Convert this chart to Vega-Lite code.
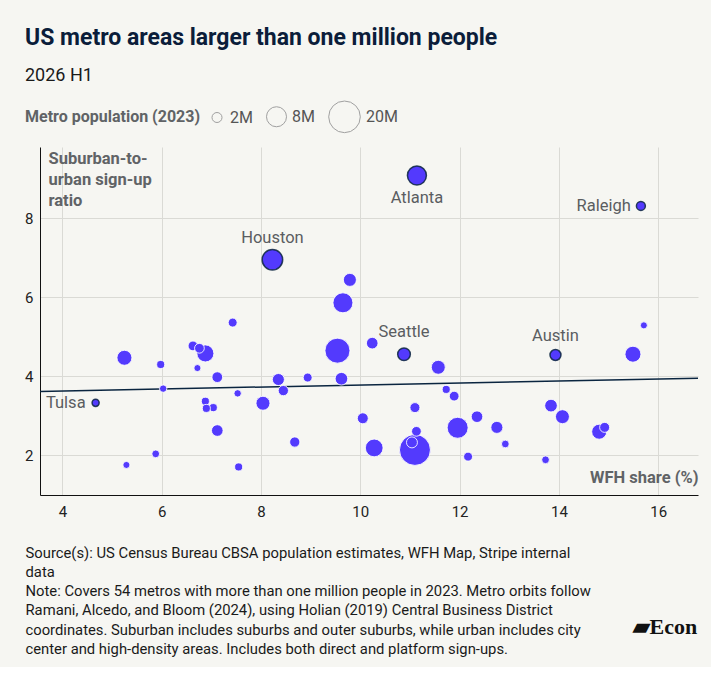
{
  "$schema": "https://vega.github.io/schema/vega-lite/v6.json",
  "width": 658,
  "height": 348,
  "autosize": {"type": "pad"},
  "padding": {"left": 24, "top": 27, "right": 10, "bottom": 10},
  "background": "#f6f6f2",
  "config": {
    "font": "Roboto",
    "view": {"stroke": null},
    "axis": {"ticks": false, "labelFont": "Roboto", "titleFont": "Roboto"}
  },
  "title": {
    "text": "US metro areas larger than one million people",
    "subtitle": "2026 H1",
    "anchor": "start",
    "frame": "group",
    "dx": -15,
    "fontSize": 23,
    "fontWeight": "bold",
    "color": "#0b1d3a",
    "subtitleFontSize": 18,
    "subtitleColor": "#1a1a1a",
    "subtitlePadding": 17,
    "offset": 15
  },
  "datasets": {
    "metros": [
      {"wfh": 8.23, "ratio": 6.95, "pop": 8.4, "metro": "Houston"},
      {"wfh": 11.14, "ratio": 9.08, "pop": 7.2, "metro": "Atlanta"},
      {"wfh": 15.65, "ratio": 8.31, "pop": 1.6, "metro": "Raleigh"},
      {"wfh": 10.88, "ratio": 4.56, "pop": 3.2, "metro": "Seattle"},
      {"wfh": 13.93, "ratio": 4.54, "pop": 2.4, "metro": "Austin"},
      {"wfh": 4.67, "ratio": 3.33, "pop": 1.0, "metro": "Tulsa"},
      {"wfh": 9.79, "ratio": 6.44, "pop": 3.4, "metro": null},
      {"wfh": 9.65, "ratio": 5.86, "pop": 8.0, "metro": null},
      {"wfh": 7.43, "ratio": 5.36, "pop": 1.6, "metro": null},
      {"wfh": 6.63, "ratio": 4.77, "pop": 1.9, "metro": null},
      {"wfh": 6.88, "ratio": 4.58, "pop": 5.8, "metro": null},
      {"wfh": 6.76, "ratio": 4.71, "pop": 1.9, "metro": null},
      {"wfh": 5.25, "ratio": 4.47, "pop": 4.5, "metro": null},
      {"wfh": 9.54, "ratio": 4.65, "pop": 12.5, "metro": null},
      {"wfh": 10.24, "ratio": 4.84, "pop": 2.7, "metro": null},
      {"wfh": 5.98, "ratio": 4.3, "pop": 1.3, "metro": null},
      {"wfh": 6.72, "ratio": 4.21, "pop": 1.0, "metro": null},
      {"wfh": 7.12, "ratio": 3.98, "pop": 2.3, "metro": null},
      {"wfh": 8.35, "ratio": 3.92, "pop": 2.9, "metro": null},
      {"wfh": 8.94, "ratio": 3.97, "pop": 1.6, "metro": null},
      {"wfh": 9.62, "ratio": 3.94, "pop": 3.2, "metro": null},
      {"wfh": 6.03, "ratio": 3.69, "pop": 1.1, "metro": null},
      {"wfh": 8.45, "ratio": 3.64, "pop": 2.1, "metro": null},
      {"wfh": 7.53, "ratio": 3.57, "pop": 1.1, "metro": null},
      {"wfh": 6.88, "ratio": 3.37, "pop": 1.3, "metro": null},
      {"wfh": 7.04, "ratio": 3.21, "pop": 1.3, "metro": null},
      {"wfh": 6.9, "ratio": 3.19, "pop": 1.3, "metro": null},
      {"wfh": 8.04, "ratio": 3.32, "pop": 3.9, "metro": null},
      {"wfh": 10.05, "ratio": 2.94, "pop": 2.4, "metro": null},
      {"wfh": 7.12, "ratio": 2.63, "pop": 2.7, "metro": null},
      {"wfh": 8.68, "ratio": 2.34, "pop": 2.1, "metro": null},
      {"wfh": 5.88, "ratio": 2.04, "pop": 1.2, "metro": null},
      {"wfh": 5.29, "ratio": 1.76, "pop": 1.0, "metro": null},
      {"wfh": 7.55, "ratio": 1.71, "pop": 1.3, "metro": null},
      {"wfh": 15.71, "ratio": 5.29, "pop": 1.0, "metro": null},
      {"wfh": 15.49, "ratio": 4.56, "pop": 5.1, "metro": null},
      {"wfh": 11.57, "ratio": 4.23, "pop": 3.9, "metro": null},
      {"wfh": 11.73, "ratio": 3.67, "pop": 1.3, "metro": null},
      {"wfh": 11.89, "ratio": 3.5, "pop": 1.9, "metro": null},
      {"wfh": 11.1, "ratio": 3.21, "pop": 2.0, "metro": null},
      {"wfh": 13.84, "ratio": 3.26, "pop": 3.2, "metro": null},
      {"wfh": 14.07, "ratio": 2.98, "pop": 3.9, "metro": null},
      {"wfh": 12.35, "ratio": 2.98, "pop": 2.7, "metro": null},
      {"wfh": 11.96, "ratio": 2.7, "pop": 8.8, "metro": null},
      {"wfh": 12.75, "ratio": 2.71, "pop": 2.9, "metro": null},
      {"wfh": 11.13, "ratio": 2.61, "pop": 1.9, "metro": null},
      {"wfh": 11.1, "ratio": 2.14, "pop": 19.2, "metro": null},
      {"wfh": 11.04, "ratio": 2.33, "pop": 2.4, "metro": null},
      {"wfh": 10.28, "ratio": 2.19, "pop": 6.3, "metro": null},
      {"wfh": 12.92, "ratio": 2.29, "pop": 1.2, "metro": null},
      {"wfh": 12.17, "ratio": 1.97, "pop": 1.6, "metro": null},
      {"wfh": 13.73, "ratio": 1.89, "pop": 1.2, "metro": null},
      {"wfh": 14.81, "ratio": 2.6, "pop": 4.5, "metro": null},
      {"wfh": 14.92, "ratio": 2.71, "pop": 2.0, "metro": null}
    ],
    "trend": [
      {"wfh": 3.55, "ratio": 3.62},
      {"wfh": 16.8, "ratio": 3.95}
    ]
  },
  "layer": [
    {
      "data": {"name": "trend"},
      "mark": {"type": "line", "color": "#0a2540", "strokeWidth": 1.5},
      "encoding": {
        "x": {
          "field": "wfh",
          "type": "quantitative",
          "scale": {"domain": [3.55, 16.8], "nice": false, "zero": false},
          "axis": {
            "orient": "bottom",
            "labels": false,
            "domain": false,
            "grid": false,
            "title": [
              "Source(s): US Census Bureau CBSA population estimates, WFH Map, Stripe internal",
              "data",
              "Note: Covers 54 metros with more than one million people in 2023. Metro orbits follow",
              "Ramani, Alcedo, and Bloom (2024), using Holian (2019) Central Business District",
              "coordinates. Suburban includes suburbs and outer suburbs, while urban includes city",
              "center and high-density areas. Includes both direct and platform sign-ups."
            ],
            "titleX": -15,
            "titleY": 62,
            "titleAlign": "left",
            "titleAnchor": "start",
            "titleBaseline": "alphabetic",
            "titleFontSize": 14.8,
            "titleFontWeight": "normal",
            "titleColor": "#1a1a1a",
            "titleLineHeight": 19.3
          }
        },
        "y": {
          "field": "ratio",
          "type": "quantitative",
          "scale": {"domain": [1, 9.8], "nice": false, "zero": false},
          "axis": {
            "orient": "right",
            "labels": false,
            "domain": false,
            "grid": false,
            "title": "▰Econ",
            "titleAngle": 0,
            "titleX": -66,
            "titleY": 486,
            "titleAlign": "left",
            "titleBaseline": "alphabetic",
            "titleFont": "Liberation Serif",
            "titleFontSize": 22,
            "titleFontWeight": "bold",
            "titleColor": "#111111"
          }
        }
      }
    },
    {
      "data": {"name": "metros"},
      "mark": {"type": "circle", "opacity": 1, "strokeOpacity": 0.85},
      "encoding": {
        "x": {
          "field": "wfh",
          "type": "quantitative",
          "scale": {"domain": [3.55, 16.8], "nice": false, "zero": false},
          "axis": {
            "orient": "bottom",
            "values": [4, 6, 8, 10, 12, 14, 16],
            "grid": true,
            "gridColor": "#dadad5",
            "domainColor": "#111111",
            "labelPadding": 9,
            "labelFontSize": 15,
            "labelColor": "#222222",
            "title": "WFH share (%)",
            "titleX": 658,
            "titleY": -13,
            "titleAlign": "right",
            "titleBaseline": "alphabetic",
            "titleFontSize": 16.5,
            "titleFontWeight": "bold",
            "titleColor": "#606366"
          }
        },
        "y": {
          "field": "ratio",
          "type": "quantitative",
          "scale": {"domain": [1, 9.8], "nice": false, "zero": false},
          "axis": {
            "orient": "left",
            "values": [2, 4, 6, 8],
            "grid": true,
            "gridColor": "#dadad5",
            "domainColor": "#111111",
            "labelPadding": 7,
            "labelFontSize": 15,
            "labelColor": "#222222",
            "title": ["Suburban-to-", "urban sign-up", "ratio"],
            "titleAngle": 0,
            "titleX": 8,
            "titleY": 16,
            "titleAlign": "left",
            "titleBaseline": "alphabetic",
            "titleFontSize": 16.5,
            "titleFontWeight": "bold",
            "titleColor": "#606366",
            "titleLineHeight": 21
          }
        },
        "color": {
          "field": "pop",
          "type": "quantitative",
          "scale": {"range": ["#533afd", "#533afd"]},
          "legend": null
        },
        "size": {
          "field": "pop",
          "type": "quantitative",
          "scale": {"domain": [0, 20], "range": [0, 1000], "zero": true},
          "legend": {
            "title": "Metro population (2023)",
            "orient": "none",
            "legendX": -15,
            "legendY": -47,
            "direction": "horizontal",
            "titleOrient": "left",
            "values": [2, 8, 20],
            "labelExpr": "datum.value + 'M'",
            "titleFontSize": 16,
            "titleFontWeight": "bold",
            "titleColor": "#606366",
            "titlePadding": 8,
            "labelFontSize": 16,
            "labelColor": "#555555",
            "labelOffset": 5,
            "columnPadding": 11,
            "symbolFillColor": "transparent",
            "symbolStrokeColor": "#a0a0a0",
            "symbolStrokeWidth": 1,
            "symbolOpacity": 1
          }
        },
        "stroke": {
          "condition": {"test": "datum.metro != null", "value": "#0a2540"},
          "value": "#ffffff"
        },
        "strokeWidth": {
          "condition": {"test": "datum.metro != null", "value": 1.5},
          "value": 1
        },
        "order": {"field": "pop", "sort": "descending"}
      }
    },
    {
      "data": {"name": "metros"},
      "transform": [{"filter": "datum.metro == 'Houston' || datum.metro == 'Seattle'"}],
      "mark": {"type": "text", "dy": -22, "fontSize": 16.5, "color": "#5a5d61", "baseline": "middle"},
      "encoding": {
        "x": {"field": "wfh", "type": "quantitative", "axis": null},
        "y": {"field": "ratio", "type": "quantitative", "axis": null},
        "text": {"field": "metro"}
      }
    },
    {
      "data": {"name": "metros"},
      "transform": [{"filter": "datum.metro == 'Austin'"}],
      "mark": {"type": "text", "dy": -19, "fontSize": 16.5, "color": "#5a5d61", "baseline": "middle"},
      "encoding": {
        "x": {"field": "wfh", "type": "quantitative", "axis": null},
        "y": {"field": "ratio", "type": "quantitative", "axis": null},
        "text": {"field": "metro"}
      }
    },
    {
      "data": {"name": "metros"},
      "transform": [{"filter": "datum.metro == 'Atlanta'"}],
      "mark": {"type": "text", "dy": 23, "fontSize": 16.5, "color": "#5a5d61", "baseline": "middle"},
      "encoding": {
        "x": {"field": "wfh", "type": "quantitative", "axis": null},
        "y": {"field": "ratio", "type": "quantitative", "axis": null},
        "text": {"field": "metro"}
      }
    },
    {
      "data": {"name": "metros"},
      "transform": [{"filter": "datum.metro == 'Raleigh' || datum.metro == 'Tulsa'"}],
      "mark": {"type": "text", "dx": -10, "align": "right", "fontSize": 16.5, "color": "#5a5d61", "baseline": "middle"},
      "encoding": {
        "x": {"field": "wfh", "type": "quantitative", "axis": null},
        "y": {"field": "ratio", "type": "quantitative", "axis": null},
        "text": {"field": "metro"}
      }
    }
  ],
  "resolve": {"axis": {"x": "independent", "y": "independent"}}
}
